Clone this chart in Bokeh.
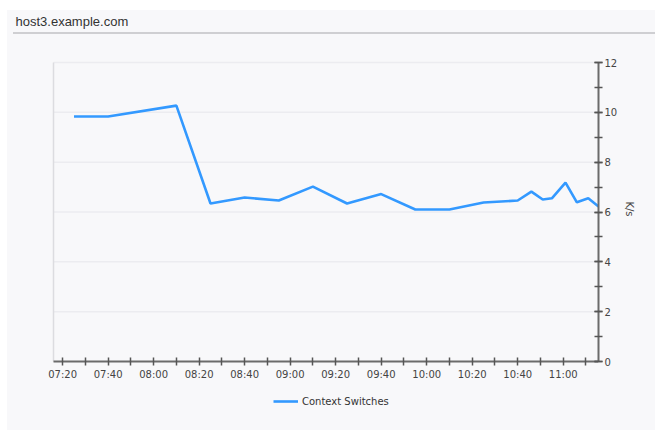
import pandas as pd
from bokeh.plotting import figure
from bokeh.models import (Range1d, FixedTicker, SingleIntervalTicker, DatetimeTickFormatter,
                          Legend, LegendItem, Label, ColumnDataSource)
from bokeh.embed import file_html
from bokeh.resources import INLINE

# ---- data ----
title_text = "host3.example.com"
series_name = "Context Switches"
y_label = "K/s"
times = ["07:25", "07:40", "08:10", "08:25", "08:40", "08:55", "09:10", "09:25",
         "09:40", "09:55", "10:10", "10:25", "10:40", "10:46", "10:51", "10:55",
         "11:01", "11:06", "11:11", "11:15:30"]
values = [9.83, 9.83, 10.27, 6.34, 6.58, 6.46, 7.02, 6.34,
          6.72, 6.10, 6.10, 6.38, 6.46, 6.82, 6.50, 6.55,
          7.18, 6.39, 6.55, 6.22]
x_start, x_end = "07:16", "11:15:30"
major_ticks = ["07:20", "07:40", "08:00", "08:20", "08:40", "09:00", "09:20",
               "09:40", "10:00", "10:20", "10:40", "11:00"]
minor_ticks = ["07:30", "07:50", "08:10", "08:30", "08:50", "09:10", "09:30",
               "09:50", "10:10", "10:30", "10:50", "11:10"]
y_min, y_max = 0, 12
grid_values = [2, 4, 6, 8, 10, 12]

DAY = "2024-01-01 "
def ts(t):
    return pd.Timestamp(DAY + t)
def ms(t):
    return (ts(t) - pd.Timestamp("1970-01-01")) // pd.Timedelta(milliseconds=1)

src = ColumnDataSource(dict(x=[ts(t) for t in times], y=values))

BG = "#f8f8fa"
FONT = "DejaVu Sans"

# ---- layout, in page pixels ----
FIG_X, FIG_Y, FIG_W, FIG_H = 7, 10, 648, 420
FR_LEFT, PLOT_LEFT, PLOT_RIGHT = 7, 53, 598          # frame left, x_start, x_end
FR_TOP, PLOT_TOP, ZERO_Y, FR_BOT = 11, 62, 361, 406   # frame top, y_max, y_min, frame bottom
px_per_unit = (ZERO_Y - PLOT_TOP) / (y_max - y_min)
y_lo = y_min - (FR_BOT - ZERO_Y) / px_per_unit
y_hi = y_max + (PLOT_TOP - FR_TOP) / px_per_unit
px_per_ms = (PLOT_RIGHT - PLOT_LEFT) / (ms(x_end) - ms(x_start))
x_lo = ts(x_start) - pd.Timedelta(milliseconds=(PLOT_LEFT - FR_LEFT) / px_per_ms)

p = figure(width=FIG_W, height=FIG_H, x_axis_type="datetime", y_axis_location="right",
           output_backend="svg", toolbar_location=None,
           x_range=Range1d(x_lo, ts(x_end)), y_range=Range1d(y_lo, y_hi),
           min_border_left=FR_LEFT - FIG_X, min_border_top=FR_TOP - FIG_Y,
           min_border_right=FIG_X + FIG_W - PLOT_RIGHT, min_border_bottom=FIG_Y + FIG_H - FR_BOT)
# panel background and the rule under the header
p.styles = {
    "margin-left": f"{FIG_X}px", "margin-top": f"{FIG_Y}px",
    "background": f"linear-gradient(#cfcfd2, #cfcfd2) 6px 22px / {FIG_W - 6}px 2px no-repeat, {BG}",
}
p.background_fill_color = None
p.border_fill_color = None
p.outline_line_color = None

# grid lines and light left edge of the plot area
p.segment(x0=[ts(x_start)] * len(grid_values), x1=[ts(x_end)] * len(grid_values),
          y0=grid_values, y1=grid_values, line_color="#ececf0", line_width=1.5)
p.segment(x0=[ts(x_start)], y0=[y_min], x1=[ts(x_start)], y1=[y_max],
          line_color="#dcdce0", line_width=1.5)

r = p.line("x", "y", source=src, line_color="#3399ff", line_width=2.6)

# x axis
xa = p.xaxis[0]
xa.fixed_location = y_min
xa.bounds = (ms(x_start), ms(x_end))
xa.ticker = FixedTicker(ticks=[ms(t) for t in major_ticks], minor_ticks=[ms(t) for t in minor_ticks])
xa.formatter = DatetimeTickFormatter(minutes="%H:%M", hourmin="%H:%M", hours="%H:%M",
                                     minsec="%H:%M", seconds="%H:%M", days="%H:%M")
# y axis
ya = p.yaxis[0]
ya.ticker = SingleIntervalTicker(interval=2, num_minor_ticks=2)
ya.bounds = (y_min, y_max)
ya.axis_label = y_label

for ax in (xa, ya):
    ax.axis_line_color = "#6b6b6b"
    ax.axis_line_width = 2
    ax.major_tick_line_color = "#555555"
    ax.minor_tick_line_color = "#555555"
    ax.major_tick_line_width = 1.5
    ax.minor_tick_line_width = 1.5
    ax.major_tick_in = 4
    ax.major_tick_out = 4
    ax.minor_tick_in = 4
    ax.minor_tick_out = 4
    ax.major_label_text_font = FONT
    ax.major_label_text_font_size = "10px"
    ax.major_label_text_color = "#444444"
    ax.major_label_standoff = 3
    ax.axis_label_text_font = FONT
    ax.axis_label_text_font_size = "10px"
    ax.axis_label_text_font_style = "normal"
    ax.axis_label_text_color = "#444444"
ya.major_label_standoff = 2
ya.axis_label_standoff = 4

p.xgrid.visible = False
p.ygrid.visible = False

legend = Legend(items=[LegendItem(label=series_name, renderers=[r])],
                orientation="horizontal", location=(266, -1),
                label_text_font=FONT, label_text_font_size="10px", label_text_color="#333333",
                glyph_width=25, glyph_height=12, label_standoff=4,
                background_fill_alpha=0, border_line_color=None, padding=2, margin=0)
p.add_layout(legend)

# header title (screen units are measured from the frame's bottom-left corner)
p.add_layout(Label(x=15 - FR_LEFT, y=FR_BOT - 21, x_units="screen", y_units="screen",
                   text=title_text, text_font="Liberation Sans", text_font_size="13px",
                   text_color="#333333", text_baseline="middle"))

open("out.html", "w").write(file_html(p, INLINE))
